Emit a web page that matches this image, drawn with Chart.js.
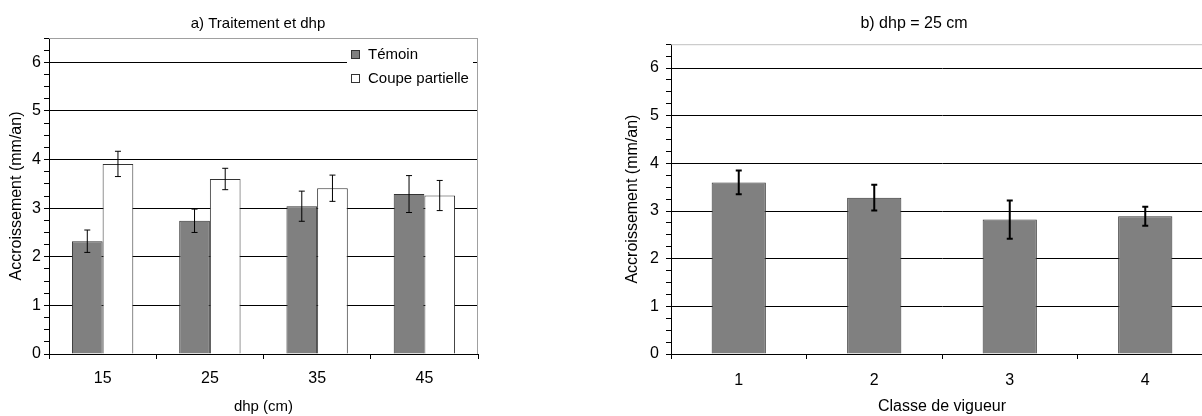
<!DOCTYPE html>
<html>
<head>
<meta charset="utf-8">
<script src="https://cdn.jsdelivr.net/npm/chart.js@4"></script>
<style>
  html, body { margin: 0; padding: 0; background: #fff; overflow: hidden; width: 1202px; height: 416px; }
  canvas { position: absolute; top: 0; }
  #chartA { left: 0; }
  #chartB { left: 600px; }
</style>
</head>
<body>
<canvas id="chartA" width="516" height="416"></canvas>
<canvas id="chartB" width="628" height="416"></canvas>
<script>
// Data panneau a)
const dhpLabels = ["15", "25", "35", "45"];
const temoin = [2.32, 2.74, 3.04, 3.29];
const temoinErr = [0.23, 0.24, 0.31, 0.38];
const coupe = [3.91, 3.6, 3.41, 3.26];
const coupeErr = [0.26, 0.22, 0.27, 0.31];

// Data panneau b)
const vigueurLabels = ["1", "2", "3", "4"];
const vigueur = [3.6, 3.28, 2.82, 2.89];
const vigueurErr = [0.25, 0.27, 0.4, 0.2];

const yTicks = [0, 1, 2, 3, 4, 5, 6];

Chart.defaults.font.family = "'Liberation Sans', Arial, sans-serif";
Chart.defaults.color = "#000";
Chart.defaults.animation = false;

// Error bars
const errorBars = {
  id: "errorBars",
  afterDatasetsDraw(chart, args, opts) {
    const ctx = chart.ctx;
    const y = chart.scales.y;
    chart.data.datasets.forEach((ds, i) => {
      if (!ds.errors) return;
      chart.getDatasetMeta(i).data.forEach((bar, j) => {
        const top = y.getPixelForValue(ds.data[j] + ds.errors[j]);
        const bottom = y.getPixelForValue(ds.data[j] - ds.errors[j]);
        ctx.save();
        ctx.strokeStyle = "#000";
        ctx.lineWidth = opts.width;
        ctx.beginPath();
        ctx.moveTo(bar.x, top);
        ctx.lineTo(bar.x, bottom);
        ctx.moveTo(bar.x - opts.cap, top);
        ctx.lineTo(bar.x + opts.cap, top);
        ctx.moveTo(bar.x - opts.cap, bottom);
        ctx.lineTo(bar.x + opts.cap, bottom);
        ctx.stroke();
        ctx.restore();
      });
    });
  },
};

// Cadre gris haut / droite
const frame = {
  id: "frame",
  beforeDatasetsDraw(chart, args, opts) {
    const a = chart.chartArea;
    const ctx = chart.ctx;
    ctx.save();
    ctx.strokeStyle = opts.color;
    ctx.lineWidth = 1;
    ctx.beginPath();
    ctx.moveTo(a.left, a.top + 0.5);
    ctx.lineTo(a.right, a.top + 0.5);
    if (opts.right) {
      ctx.moveTo(a.right - 0.5, a.top);
      ctx.lineTo(a.right - 0.5, a.bottom);
    }
    ctx.stroke();
    ctx.restore();
  },
};

// Legende dans la zone du graphique
const insideLegend = {
  id: "insideLegend",
  afterDraw(chart, args, opts) {
    if (!opts.show) return;
    const a = chart.chartArea;
    const ctx = chart.ctx;
    const x0 = a.right - 131;
    const y0 = a.top + 4;
    ctx.save();
    ctx.fillStyle = "#fff";
    ctx.fillRect(x0, y0, 126, 50);
    ctx.font = "15px 'Liberation Sans', Arial, sans-serif";
    ctx.textBaseline = "middle";
    chart.data.datasets.forEach((ds, i) => {
      const cy = y0 + 13 + i * 24;
      ctx.fillStyle = ds.backgroundColor;
      ctx.fillRect(x0 + 4.5, cy - 4.5, 8, 8);
      ctx.strokeStyle = "#333";
      ctx.lineWidth = 1;
      ctx.strokeRect(x0 + 4.5, cy - 4.5, 8, 8);
      ctx.fillStyle = "#000";
      ctx.fillText(ds.label, x0 + 21, cy);
    });
    ctx.restore();
  },
};

function yScale(width, size, titlePad, tickPad) {
  return {
    min: 0,
    max: 6.5,
    afterFit: (s) => { s.width = width; },
    afterBuildTicks: (s) => {
      const t = [];
      for (let v = 0; v <= 6.5; v += 0.25) t.push({ value: v });
      s.ticks = t;
    },
    border: { color: "#000", width: 1 },
    grid: {
      color: (c) => (yTicks.includes(c.tick.value) ? "#000" : "rgba(0,0,0,0)"),
      tickColor: "#000",
      tickLength: 5,
      lineWidth: 1,
    },
    ticks: {
      autoSkip: false,
      padding: tickPad,
      font: { size: size },
      callback: (v) => (yTicks.includes(v) ? String(v) : ""),
    },
    title: {
      display: true,
      text: "Accroissement (mm/an)",
      font: { size: size },
      padding: { top: titlePad, bottom: 0 },
    },
  };
}

// axe vide a droite : garde le titre centre sur toute la figure
function spacer(width) {
  return {
    position: "right",
    display: true,
    afterFit: (s) => { s.width = width; },
    grid: { display: false },
    border: { display: false },
    ticks: { display: false },
  };
}

function xScale(text, size, titleSize, tickPad) {
  return {
    afterFit: (s) => { s.height = 62; },
    border: { color: "#000", width: 1 },
    grid: {
      offset: true,
      drawOnChartArea: false,
      tickColor: "#000",
      tickLength: 5,
    },
    ticks: { padding: tickPad, font: { size: size } },
    title: {
      display: true,
      text: text,
      font: { size: titleSize },
      padding: { top: 0, bottom: 0 },
    },
  };
}

// Panneau a)
new Chart(document.getElementById("chartA"), {
  type: "bar",
  data: {
    labels: dhpLabels,
    datasets: [
      {
        label: "Témoin",
        data: temoin,
        errors: temoinErr,
        backgroundColor: "#808080",
        borderColor: "#333",
        borderWidth: 1,
        categoryPercentage: 0.572,
        barPercentage: 1,
      },
      {
        label: "Coupe partielle",
        data: coupe,
        errors: coupeErr,
        backgroundColor: "#ffffff",
        borderColor: "#333",
        borderWidth: 1,
        categoryPercentage: 0.572,
        barPercentage: 1,
      },
    ],
  },
  plugins: [frame, errorBars, insideLegend],
  options: {
    responsive: false,
    layout: { padding: 0 },
    plugins: {
      legend: { display: false },
      tooltip: { enabled: false },
      title: {
        display: true,
        text: "a) Traitement et dhp",
        font: { size: 15, weight: "normal" },
        color: "#000",
        padding: { top: 15, bottom: 5 },
      },
      frame: { color: "#a0a0a0", right: true },
      errorBars: { width: 1, cap: 3 },
      insideLegend: { show: true },
    },
    scales: {
      x: xScale("dhp (cm)", 16, 15, 10),
      y: yScale(49, 16, 7, 3),
      pad: spacer(38),
    },
  },
});

// Panneau b)
new Chart(document.getElementById("chartB"), {
  type: "bar",
  data: {
    labels: vigueurLabels,
    datasets: [
      {
        label: "Accroissement",
        data: vigueur,
        errors: vigueurErr,
        backgroundColor: "#808080",
        borderColor: "#333",
        borderWidth: 1,
        categoryPercentage: 0.4,
        barPercentage: 1,
      },
    ],
  },
  plugins: [frame, errorBars],
  options: {
    responsive: false,
    layout: { padding: 0 },
    plugins: {
      legend: { display: false },
      tooltip: { enabled: false },
      title: {
        display: true,
        text: "b) dhp = 25 cm",
        font: { size: 16, weight: "normal" },
        color: "#000",
        padding: { top: 14, bottom: 11 },
      },
      frame: { color: "#c0c0c0", right: false },
      errorBars: { width: 2, cap: 3 },
    },
    scales: {
      x: xScale("Classe de vigueur", 16, 16, 12),
      y: yScale(71, 16, 23, 7),
      pad: spacer(15),
    },
  },
});
</script>
</body>
</html>
